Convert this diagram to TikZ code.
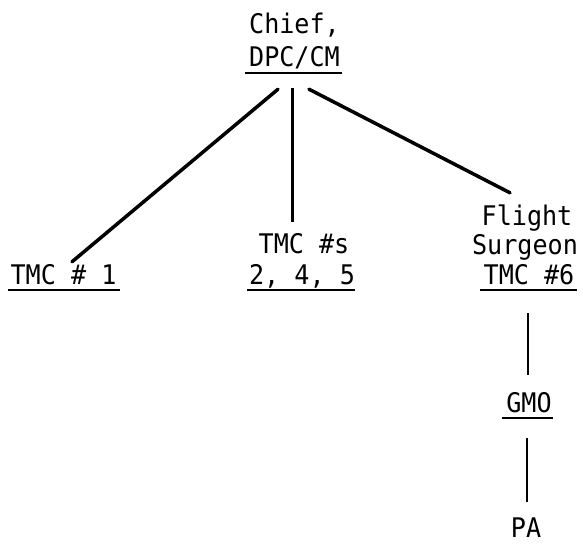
\documentclass[tikz,border=0pt]{standalone}
\usepackage{fontspec}
\setmonofont[FakeStretch=0.93]{DejaVu Sans Mono}
\usetikzlibrary{calc}
\tikzset{
  lbl/.style={font=\ttfamily\fontsize{27}{31}\selectfont, inner sep=0pt,
              text height=19pt, text depth=0pt, anchor=base},
  link/.style={line width=3.5pt, line cap=round},
  stem/.style={line width=2.2pt},
  uline/.style={line width=1.8pt},
}
\begin{document}
\begin{tikzpicture}[x=1pt, y=-1pt]
\useasboundingbox (0,0) rectangle (583,544);

% top of the chart
\node[lbl] (chiefA) at (294.5,33) {Chief,};
\node[lbl] (chiefB) at (294.5,66) {DPC/CM};
\draw[uline] ($(chiefB.base)+(-49.5,7)$) -- ($(chiefB.base)+(47.5,7)$);

% second level
\node[lbl] (tmc1) at (63.5,284) {TMC \# 1};
\draw[uline] ($(tmc1.base)+(-55.5,6)$) -- ($(tmc1.base)+(56.5,6)$);

\node[lbl] (midA) at (304,253) {TMC \#s};
\node[lbl] (midB) at (302,284) {2, 4, 5};
\draw[uline] ($(midB.base)+(-55,6)$) -- ($(midB.base)+(53,6)$);

\node[lbl] (fsA) at (527,225) {Flight};
\node[lbl] (fsB) at (525,254) {Surgeon};
\node[lbl] (fsC) at (529,284) {TMC \#6};
\draw[uline] ($(fsC.base)+(-49,6)$) -- ($(fsC.base)+(48,6)$);

% lower chain
\node[lbl] (gmo) at (529,412) {GMO};
\draw[uline] ($(gmo.base)+(-27,6)$) -- ($(gmo.base)+(24,6)$);
\node[lbl] (pa) at (526,537) {PA};

% connectors
\draw[link] ($(chiefB.south)+(-16.5,23)$) -- ($(tmc1.north)+(8.5,-3)$);
\draw[line width=3pt] ($(chiefB.south)+(-2.5,22)$) -- ($(midA.north)+(-12,-12)$);
\draw[link] ($(chiefB.south)+(14.5,23)$) -- ($(fsA.north)+(-17,-13)$);
\draw[stem] ($(fsC.south)+(-1,29)$) -- ($(gmo.north)+(-1,-18)$);
\draw[stem] ($(gmo.south)+(-2,26)$) -- ($(pa.north)+(1,-16)$);
\end{tikzpicture}
\end{document}
